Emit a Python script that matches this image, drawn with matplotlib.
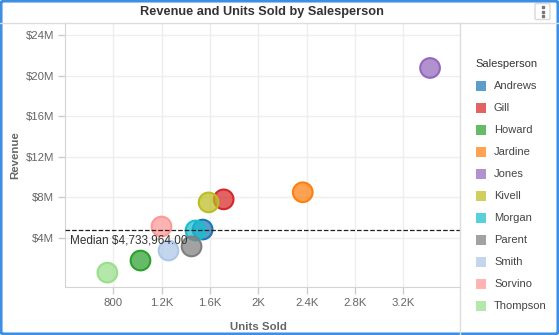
#!/usr/bin/env python3
"""
plot.py

Bubble scatter of revenue against units sold for each salesperson.
"""

import matplotlib.pyplot as plt
from matplotlib.lines import Line2D
from matplotlib.patches import FancyBboxPatch, Rectangle
from matplotlib.ticker import FuncFormatter

plt.rcParams['font.family'] = ['Liberation Sans', 'DejaVu Sans']

names = ['Andrews', 'Gill', 'Howard', 'Jardine', 'Jones', 'Kivell',
         'Morgan', 'Parent', 'Smith', 'Sorvino', 'Thompson']
units = [1539, 1713, 1024, 2368, 3422, 1588, 1480, 1447, 1256, 1198, 750]
revenue = [4.80e6, 7.78e6, 1.74e6, 8.48e6, 20.75e6, 7.48e6,
           4.71e6, 3.13e6, 2.73e6, 5.10e6, 0.55e6]
colors = ['#1f77b4', '#d62728', '#2ca02c', '#ff7f0e', '#9467bd', '#bcbd22',
          '#17becf', '#7f7f7f', '#aec7e8', '#ff9896', '#98df8a']
median_revenue = 4733964.00

x_ticks = [800, 1200, 1600, 2000, 2400, 2800, 3200]
y_ticks = [4e6, 8e6, 12e6, 16e6, 20e6, 24e6]

W, H = 559, 335
fig = plt.figure(figsize=(W / 100, H / 100), dpi=100)

# Plot area in pixel terms: left 65, right 460, top 23, bottom 287.
ax = fig.add_axes([65 / W, (H - 287) / H, (460 - 65) / W, (287 - 23) / H])

for name, x, y, c in zip(names, units, revenue, colors):
    ax.scatter(x, y, s=200, color=c, alpha=0.72, edgecolors='none', zorder=3)
    ax.scatter(x, y, s=200, facecolors='none', edgecolors=c, linewidths=1.5,
               zorder=3)

ax.axhline(median_revenue, color='#222222', ls='--', lw=0.9, zorder=4)
ax.text(440, median_revenue - 0.4e6, 'Median \\$4,733,964.00',
        fontsize=8.5, color='#333333', va='top', ha='left', zorder=5)

ax.set_xlim(399, 3670)
ax.set_ylim(-0.87e6, 25.19e6)
ax.set_xticks(x_ticks)
ax.set_yticks(y_ticks)


def fmt_units(v, pos):
    if v >= 1000:
        return '{:g}K'.format(v / 1000)
    return '{:g}'.format(v)


def fmt_revenue(v, pos):
    return '\\${:g}M'.format(v / 1e6)


ax.xaxis.set_major_formatter(FuncFormatter(fmt_units))
ax.yaxis.set_major_formatter(FuncFormatter(fmt_revenue))
ax.tick_params(axis='both', colors='#cccccc', labelcolor='#666666',
               labelsize=8.2, length=5, width=1)
ax.tick_params(axis='x', pad=3)
ax.tick_params(axis='y', pad=3)
ax.grid(True, color='#eeeeee', lw=1, zorder=0)
ax.set_axisbelow(True)
for side in ['top', 'right']:
    ax.spines[side].set_visible(False)
for side in ['left', 'bottom']:
    ax.spines[side].set_color('#d4d4d4')

ax.set_xlabel('Units Sold', fontsize=8.2, fontweight='bold',
              color='#666666')
ax.xaxis.set_label_coords((258 - 65) / 395, -(322 - 287) / 264)
ax.set_ylabel('Revenue', fontsize=8.2, fontweight='bold',
              color='#666666')
ax.yaxis.set_label_coords(-(65 - 20) / 395, (287 - 155) / 264)

# Header, separators and the widget frame.
fig.text(262 / W, 1 - 12 / H, 'Revenue and Units Sold by Salesperson',
         fontsize=9.2, fontweight='bold', color='#333333',
         ha='center', va='center')
fig.add_artist(Line2D([0, 1], [1 - 23 / H] * 2, color='#dddddd', lw=1))
fig.add_artist(Line2D([460 / W] * 2, [0, 1 - 23 / H], color='#dddddd', lw=1))

fig.add_artist(FancyBboxPatch((535 / W, 1 - 19.5 / H), 15 / W, 16 / H,
                              boxstyle='round,pad=0,rounding_size=0.003',
                              transform=fig.transFigure, facecolor='white',
                              edgecolor='#d8d8d8', lw=1))
fig.add_artist(Line2D([542.5 / W] * 3,
                      [1 - 7 / H, 1 - 11.5 / H, 1 - 16 / H],
                      ls='none', marker='s', markersize=2,
                      color='#777777', transform=fig.transFigure))

fig.add_artist(FancyBboxPatch((1 / W, 1 / H), 1 - 2 / W, 1 - 2 / H,
                              boxstyle='round,pad=0,rounding_size=0.006',
                              transform=fig.transFigure, facecolor='none',
                              edgecolor='#3d8fe3', lw=2.2))

# Legend drawn in figure coordinates.
fig.text(475 / W, 1 - 64 / H, 'Salesperson', fontsize=8, color='#333333',
         va='center', ha='left')
for i, (name, c) in enumerate(zip(names, colors)):
    yc = 86 + 22 * i
    fig.add_artist(Rectangle((476 / W, 1 - (yc + 5) / H), 10 / W, 10 / H,
                             transform=fig.transFigure, color=c, alpha=0.72,
                             lw=0))
    fig.text(494 / W, 1 - yc / H, name, fontsize=8, color='#444444',
             va='center', ha='left')

fig.savefig('out.png', dpi=100)
